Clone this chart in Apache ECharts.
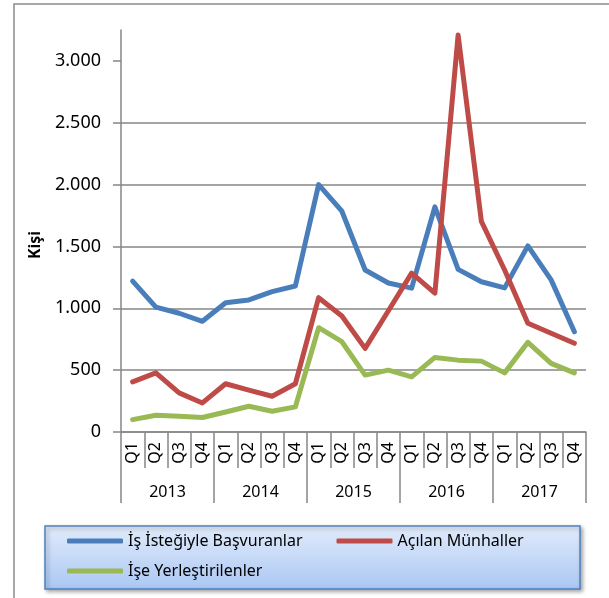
<!DOCTYPE html>
<html>
<head>
<meta charset="utf-8">
<script src="https://cdn.jsdelivr.net/npm/echarts@6/dist/echarts.min.js"></script>
<style>
  html, body { margin: 0; padding: 0; background: #fff; }
  #chart { width: 609px; height: 598px; }
</style>
</head>
<body>
<div id="chart"></div>
<script>
// quarters and years for the two-level category axis
const quarters = ['Q1', 'Q2', 'Q3', 'Q4', 'Q1', 'Q2', 'Q3', 'Q4', 'Q1', 'Q2', 'Q3', 'Q4',
  'Q1', 'Q2', 'Q3', 'Q4', 'Q1', 'Q2', 'Q3', 'Q4']
const years = ['2013', '2014', '2015', '2016', '2017']
const yTicks = [0, 500, 1000, 1500, 2000, 2500, 3000]

const basvuranlar = [1220, 1010, 960, 895, 1045, 1068, 1135, 1180, 2000, 1785, 1310, 1205,
  1163, 1820, 1315, 1215, 1165, 1505, 1230, 811]
const munhaller = [405, 478, 316, 235, 390, 338, 289, 390, 1086, 938, 676, 980,
  1284, 1122, 3210, 1703, 1310, 879, 798, 717]
const yerlestirilen = [100, 135, 127, 117, 162, 208, 168, 203, 843, 730, 460, 500,
  446, 603, 581, 573, 478, 725, 555, 478]

const font = 'Noto Sans'
const gray = '#868686'

const chart = echarts.init(document.getElementById('chart'))

function fmt(v) {
  return String(v).replace(/\B(?=(\d{3})+(?!\d))/g, '.')
}

function lineSeries(name, data, color) {
  return {
    name: name,
    type: 'line',
    data: data,
    symbol: 'none',
    lineStyle: { color: color, width: 5, cap: 'round', join: 'round' },
    itemStyle: { color: color }
  }
}

chart.setOption({
  animation: false,
  textStyle: { fontFamily: font },
  grid: { left: 121, right: 23, top: 30, bottom: 166 },
  legend: [
    {
      data: ['İş İsteğiyle Başvuranlar', 'Açılan Münhaller'],
      left: 67,
      top: 533,
      padding: 0,
      icon: 'roundRect',
      itemWidth: 56,
      itemHeight: 5,
      itemGap: 34,
      textStyle: { fontSize: 16, color: '#000', fontFamily: font }
    },
    {
      data: ['İşe Yerleştirilenler'],
      left: 67,
      top: 563,
      padding: 0,
      icon: 'roundRect',
      itemWidth: 56,
      itemHeight: 5,
      textStyle: { fontSize: 16, color: '#000', fontFamily: font }
    }
  ],
  graphic: [
    {
      type: 'rect',
      z: -1,
      shape: { x: 14, y: 4, width: 620, height: 620 },
      style: { fill: 'none', stroke: '#8c8c8c', lineWidth: 1.5 }
    },
    {
      type: 'rect',
      z: -1,
      shape: { x: 45, y: 526, width: 535, height: 63 },
      style: {
        fill: new echarts.graphic.LinearGradient(0, 0, 0, 1, [
          { offset: 0, color: '#e2ecfb' },
          { offset: 1, color: '#aac7f4' }
        ]),
        stroke: '#4f81bd',
        lineWidth: 1.5,
        shadowBlur: 4,
        shadowOffsetX: 2,
        shadowOffsetY: 2,
        shadowColor: 'rgba(0,0,0,0.35)'
      }
    }
  ],
  xAxis: [
    {
      type: 'category',
      position: 'bottom',
      data: quarters,
      axisLine: { lineStyle: { color: gray, width: 1.5 } },
      axisTick: { show: true, interval: 0, length: 36, lineStyle: { color: gray, width: 1.5 } },
      axisLabel: { interval: 0, rotate: 90, margin: 10, fontSize: 16, color: '#000', fontFamily: font }
    },
    {
      type: 'category',
      position: 'bottom',
      data: years,
      axisLine: { show: false },
      axisTick: { show: true, interval: 0, length: 71, lineStyle: { color: gray, width: 1.5 } },
      axisLabel: { interval: 0, margin: 52, fontSize: 16, color: '#000', fontFamily: font }
    }
  ],
  yAxis: {
    type: 'value',
    min: 0,
    max: 3250,
    interval: 500,
    name: 'Kişi',
    nameLocation: 'middle',
    nameGap: 78,
    nameTextStyle: { fontSize: 16, fontWeight: 'bold', color: '#000', fontFamily: font, padding: [0, 28, 0, 0] },
    axisLine: { show: true, lineStyle: { color: gray, width: 1.5 } },
    axisTick: { show: true, length: 8, customValues: yTicks, lineStyle: { color: gray, width: 1.5 } },
    axisLabel: { margin: 20, fontSize: 18, color: '#000', fontFamily: font, customValues: yTicks, formatter: fmt },
    splitLine: { showMaxLine: false, lineStyle: { color: gray, width: 1.5 } }
  },
  series: [
    lineSeries('İş İsteğiyle Başvuranlar', basvuranlar, '#4a7ebb'),
    lineSeries('Açılan Münhaller', munhaller, '#be4b48'),
    lineSeries('İşe Yerleştirilenler', yerlestirilen, '#98b954')
  ]
})
</script>
</body>
</html>
